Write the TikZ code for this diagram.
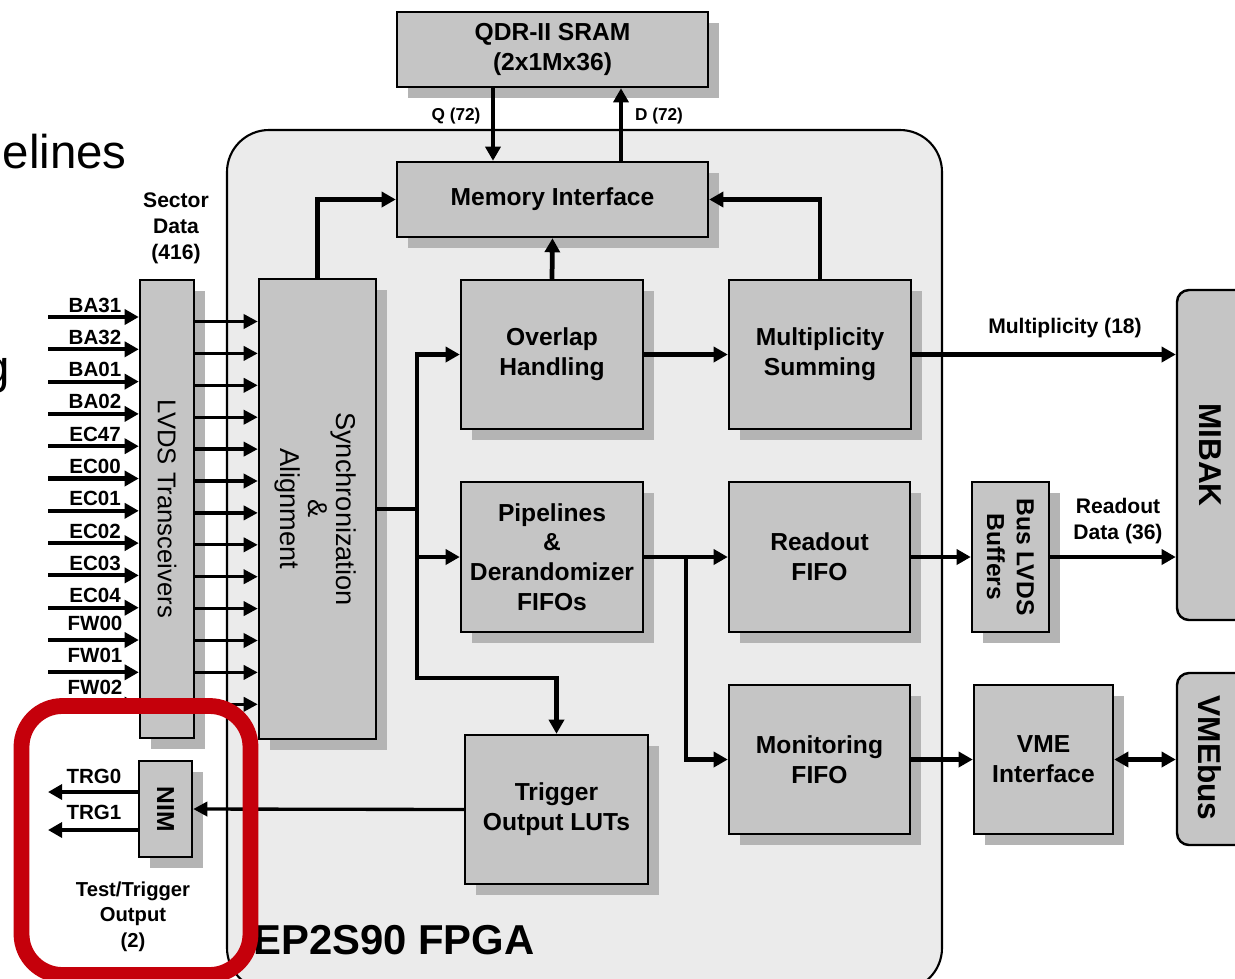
\documentclass[tikz,border=0pt]{standalone}
\usepackage{fontspec}
\setmainfont{Liberation Sans}
\usetikzlibrary{arrows.meta,calc,fit,shadows}
\definecolor{boxgray}{RGB}{197,197,197}
\definecolor{shgray}{RGB}{180,180,180}
\definecolor{fpgagray}{RGB}{235,235,235}
\definecolor{framered}{RGB}{197,0,11}
\tikzset{
  blk/.style={draw=black, line width=1.4pt, fill=boxgray, inner sep=0pt,
    drop shadow={shadow xshift=0.22cm, shadow yshift=-0.22cm, fill=shgray, opacity=1}},
  bus/.style={draw=black, line width=1.4pt, fill=boxgray, inner sep=0pt, rounded corners=0.24cm},
  btxt/.style={font=\fontsize{14}{17}\selectfont\bfseries, align=center, inner sep=0pt},
  rtxt/.style={rotate=-90, align=center, inner sep=0pt},
  lbl/.style={font=\fontsize{12}{14.7}\selectfont\bfseries, align=center, inner sep=0pt},
  inlbl/.style={font=\fontsize{11.7}{14}\selectfont\bfseries, inner sep=0pt},
  arrA/.style={line width=2.7pt, -{Triangle[length=8pt,width=8.5pt]}},
  arrB/.style={line width=2.3pt, -{Triangle[length=8pt,width=8.5pt]}},
  arrS/.style={line width=1.9pt, -{Triangle[length=8pt,width=8pt]}},
  arrD/.style={line width=2.3pt, {Triangle[length=8pt,width=8.5pt]}-{Triangle[length=8pt,width=8.5pt]}},
  seg/.style={line width=2.7pt},
}
\begin{document}
\begin{tikzpicture}[x=0.02cm,y=-0.02cm]
\clip (0,0) rectangle (1235,978);
\fill[white] (0,0) rectangle (1235,978);

% slide text fragments
\node[anchor=base east, inner sep=0pt, font=\fontsize{27}{30}\selectfont] (slidet) at (127,168) {elines};
\node[anchor=base east, inner sep=0pt, font=\fontsize{27}{30}\selectfont] (slideg) at (10,383) {g};

% FPGA
\node[draw=black, line width=1.2pt, fill=fpgagray, rounded corners=0.84cm, inner sep=0pt,
      fit={(227,130) (942,990)}] (fpga) {};
\node[anchor=base west, inner sep=0pt, font=\fontsize{23.8}{26}\selectfont\bfseries] (fpgat) at (253,954) {EP2S90 FPGA};

% blocks
\node[blk, fit={(397,12) (708,87)}] (sram) {};
\node[btxt] (sramt) at (sram.center) {QDR-II SRAM\\(2x1Mx36)};
\node[blk, fit={(397,162) (708,237)}] (memif) {};
\node[btxt] (memift) at (memif.center) {Memory Interface};
\node[blk, fit={(259,279) (376,739)}] (sync) {};
\node[rtxt, font=\fontsize{15.5}{15.9}\selectfont] (synct) at ($(sync.center)+(-2,0)$) {Synchronization\\\&\\Alignment};
\node[blk, fit={(140,280) (194,738)}] (lvds) {};
\node[rtxt, font=\fontsize{14.6}{17}\selectfont] (lvdst) at (lvds.center) {LVDS Transceivers};
\node[blk, fit={(461,280) (643,429)}] (ovl) {};
\node[btxt] (ovlt) at (ovl.center) {Overlap\\Handling};
\node[blk, fit={(729,280) (911,429)}] (mult) {};
\node[btxt] (multt) at (mult.center) {Multiplicity\\Summing};
\node[blk, fit={(461,482) (643,632)}] (pipe) {};
\node[btxt] (pipet) at (pipe.center) {Pipelines\\\&\\Derandomizer\\FIFOs};
\node[blk, fit={(729,482) (910,632)}] (rdo) {};
\node[btxt] (rdot) at (rdo.center) {Readout\\FIFO};
\node[blk, fit={(465,735) (648,884)}] (trig) {};
\node[btxt] (trigt) at (trig.center) {Trigger\\Output LUTs};
\node[blk, fit={(729,685) (910,834)}] (mon) {};
\node[btxt] (mont) at (mon.center) {Monitoring\\FIFO};
\node[blk, fit={(972,482) (1049,632)}] (bus) {};
\node[rtxt, btxt] (bust) at (bus.center) {Bus LVDS\\Buffers};
\node[blk, fit={(974,685) (1113,834)}] (vme) {};
\node[btxt] (vmet) at (vme.center) {VME\\Interface};
\node[blk, fit={(139,761) (192,857)}] (nim) {};
\node[rtxt, btxt] (nimt) at (nim.center) {NIM};
\node[bus, fit={(1177,290) (1250,620)}] (mibak) {};
\node[rtxt, font=\fontsize{18}{20}\selectfont\bfseries] (mibakt) at (1210,455) {MIBAK};
\node[bus, fit={(1177,673) (1250,845)}] (vmebus) {};
\node[rtxt, font=\fontsize{18}{20}\selectfont\bfseries] (vmebust) at (1210,758) {VMEbus};

% SRAM <-> memory interface
\draw[arrA] ($(sram.south)+(-59.5,0)$) -- ($(memif.north)+(-59.5,0)$);
\draw[arrA] ($(memif.north)+(68.5,0)$) -- ($(sram.south)+(68.5,0)$);
\node[lbl, font=\fontsize{9.8}{12}\selectfont\bfseries] (ql) at (456,116) {Q (72)};
\node[lbl, font=\fontsize{9.8}{12}\selectfont\bfseries] (dl) at (659,116) {D (72)};

% memory interface feeds
\draw[arrA] (sync.north) |- (memif.west);
\draw[arrA] (mult.north) |- (memif.east);
\draw[arrA] (ovl.north) -- (memif.south);
\draw[arrA] (ovl.east) -- (mult.west);
\draw[arrB] (mult.east) -- (mult.east -| mibak.west);
\node[lbl] (multl) at (1065,328) {Multiplicity (18)};

% sync distribution
\coordinate (tr) at (417,509);
\coordinate (tb) at (556.5,678);
\draw[seg] (sync.east) -- (tr);
\draw[arrA] (tr) |- (ovl.west);
\draw[arrA] (tr) |- (pipe.west);
\draw[arrA] (tr) |- (tb) -- (trig.north);

% readout path
\coordinate (br) at (686,557);
\draw[arrA] (pipe.east) -- (rdo.west);
\draw[arrA] (br) |- (mon.west);
\draw[arrA] (rdo.east) -- (bus.west);
\draw[arrB] (bus.east) -- (bus.east -| mibak.west);
\node[lbl] (rdl) at (1118,521) {Readout\\Data (36)};
\draw[arrA] (mon.east) -- (vme.west);
\draw[arrD] (vme.east) -- (vme.east -| vmebus.west);

% trigger output
\draw[arrS] (trig.west) -- (nim.east);
\coordinate (trg0) at (48,792);
\coordinate (trg1) at (48,830);
\draw[arrB] (nim.west |- trg0) -- (trg0);
\draw[arrB] (nim.west |- trg1) -- (trg1);
\node[inlbl] (trg0l) at (94,776) {TRG0};
\node[inlbl] (trg1l) at (94,812) {TRG1};
\node[lbl, font=\fontsize{11.5}{14.5}\selectfont\bfseries] (ttl) at (133,916.5) {Test/Trigger\\Output\\(2)};

% sector inputs
\node[lbl] (secl) at (176,228) {Sector\\Data\\(416)};
\foreach \n [count=\i from 0] in {BA31,BA32,BA01,BA02,EC47,EC00,EC01,EC02,EC03,EC04,FW00,FW01,FW02} {
  \pgfmathsetmacro{\yy}{317+32.3*\i}
  \pgfmathsetmacro{\off}{\i<10 ? 5 : 10}
  \coordinate (in\i) at (48,\yy);
  \draw[arrB] (in\i) -- (in\i -| lvds.west);
  \node[inlbl, anchor=base] (inl\i) at (95,{\yy-\off}) {\n};
}
\foreach \i in {0,...,12} {
  \pgfmathsetmacro{\yy}{321.5+31.9*\i}
  \coordinate (o\i) at (200,\yy);
  \draw[arrS] (lvds.east |- o\i) -- (sync.west |- o\i);
}

% highlight frame
\node[draw=framered, line width=9pt, rounded corners=0.82cm, inner sep=0pt,
      fit={(21.5,706) (250.5,975)}] (hl) {};
\end{tikzpicture}
\end{document}
